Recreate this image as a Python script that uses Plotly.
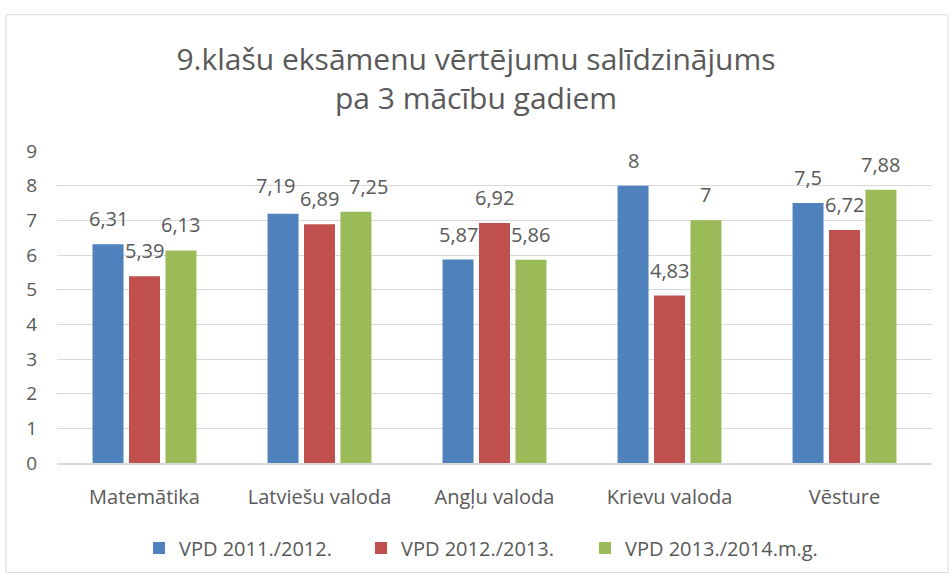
import plotly.graph_objects as go

categories = ["Matemātika", "Latviešu valoda", "Angļu valoda", "Krievu valoda", "Vēsture"]
series_names = ["VPD 2011./2012.", "VPD 2012./2013.", "VPD 2013./2014.m.g."]
vals_2012 = [6.31, 7.19, 5.87, 8, 7.5]
vals_2013 = [5.39, 6.89, 6.92, 4.83, 6.72]
vals_2014 = [6.13, 7.25, 5.86, 7, 7.88]
colors = ["#4f81bd", "#c0504d", "#9bbb59"]
y_ticks = list(range(0, 10))

FONT = "'Open Sans', sans-serif"
GREY = "#595959"

W, H = 952, 580
M = dict(l=57, r=20, t=151, b=113)
PW = W - M["l"] - M["r"]
PH = H - M["t"] - M["b"]
BARGAP = 0.375

# Excel pushed a few crowded labels sideways: (series, category) -> (dx, dy) px
label_nudge = {(0, 1): (-8, 3), (2, 1): (13, 0)}
# left edge of each legend entry, page px
legend_left = [139, 361, 585]


def fmt(v):
    return f"{v:g}".replace(".", ",")


series = [vals_2012, vals_2013, vals_2014]
legend_ids = ["legend", "legend2", "legend3"]

fig = go.Figure()
for name, vals, col, lg in zip(series_names, series, colors, legend_ids):
    fig.add_trace(
        go.Bar(
            x=categories,
            y=vals,
            name=name,
            legend=lg,
            marker=dict(color=col, line=dict(width=0)),
        )
    )

# value labels sit a bit higher above the bars than plotly's own outside text
slot = PW / len(categories) * (1 - BARGAP) / len(series)
annotations = []
for i, vals in enumerate(series):
    for j, (cat, v) in enumerate(zip(categories, vals)):
        dx, dy = label_nudge.get((i, j), (0, 0))
        annotations.append(
            dict(
                x=cat,
                y=v,
                text=fmt(v),
                showarrow=False,
                xanchor="center",
                yanchor="bottom",
                xshift=(i - 1) * slot + dx,
                yshift=10 + dy,
                font=dict(size=20, color=GREY, family=FONT),
            )
        )

legends = {}
for lg, left in zip(legend_ids, legend_left):
    legends[lg] = dict(
        orientation="h",
        x=(left - M["l"]) / PW,
        xanchor="left",
        y=-0.21,
        yanchor="top",
        font=dict(size=20, color=GREY, family=FONT),
        itemwidth=30,
        bgcolor="rgba(0,0,0,0)",
    )

fig.update_layout(
    width=W,
    height=H,
    barmode="group",
    bargap=BARGAP,
    bargroupgap=0.15,
    paper_bgcolor="white",
    plot_bgcolor="white",
    font=dict(family=FONT, color=GREY),
    title=dict(
        text="9.klašu eksāmenu vērtējumu salīdzinājums<br>pa 3 mācību gadiem",
        x=0.5,
        xanchor="center",
        y=1 - 70 / H,
        yanchor="top",
        font=dict(size=30, color=GREY, family=FONT),
    ),
    margin=M,
    showlegend=True,
    xaxis=dict(
        showgrid=False,
        showline=True,
        linecolor="#d9d9d9",
        linewidth=1.5,
        ticks="",
        tickfont=dict(size=20, color=GREY, family=FONT),
        ticklabelstandoff=15,
    ),
    yaxis=dict(
        range=[0, 9],
        tickvals=y_ticks,
        showgrid=True,
        gridcolor="#d9d9d9",
        gridwidth=1,
        zeroline=False,
        showline=False,
        ticks="",
        tickfont=dict(size=19, color=GREY, family=FONT),
        ticklabelstandoff=19,
    ),
    annotations=annotations,
    shapes=[
        dict(
            type="rect",
            xref="paper",
            yref="paper",
            x0=(6 - M["l"]) / PW,
            x1=1 + (M["r"] - 4) / PW,
            y0=-(M["b"] - 2) / PH,
            y1=1 + (M["t"] - 13) / PH,
            line=dict(color="#d9d9d9", width=1),
            fillcolor="rgba(0,0,0,0)",
            layer="below",
        )
    ],
    **legends,
)

fig.write_html(
    "out.html",
    config={"displayModeBar": False},
    post_script="document.body.style.margin='0';",
)
